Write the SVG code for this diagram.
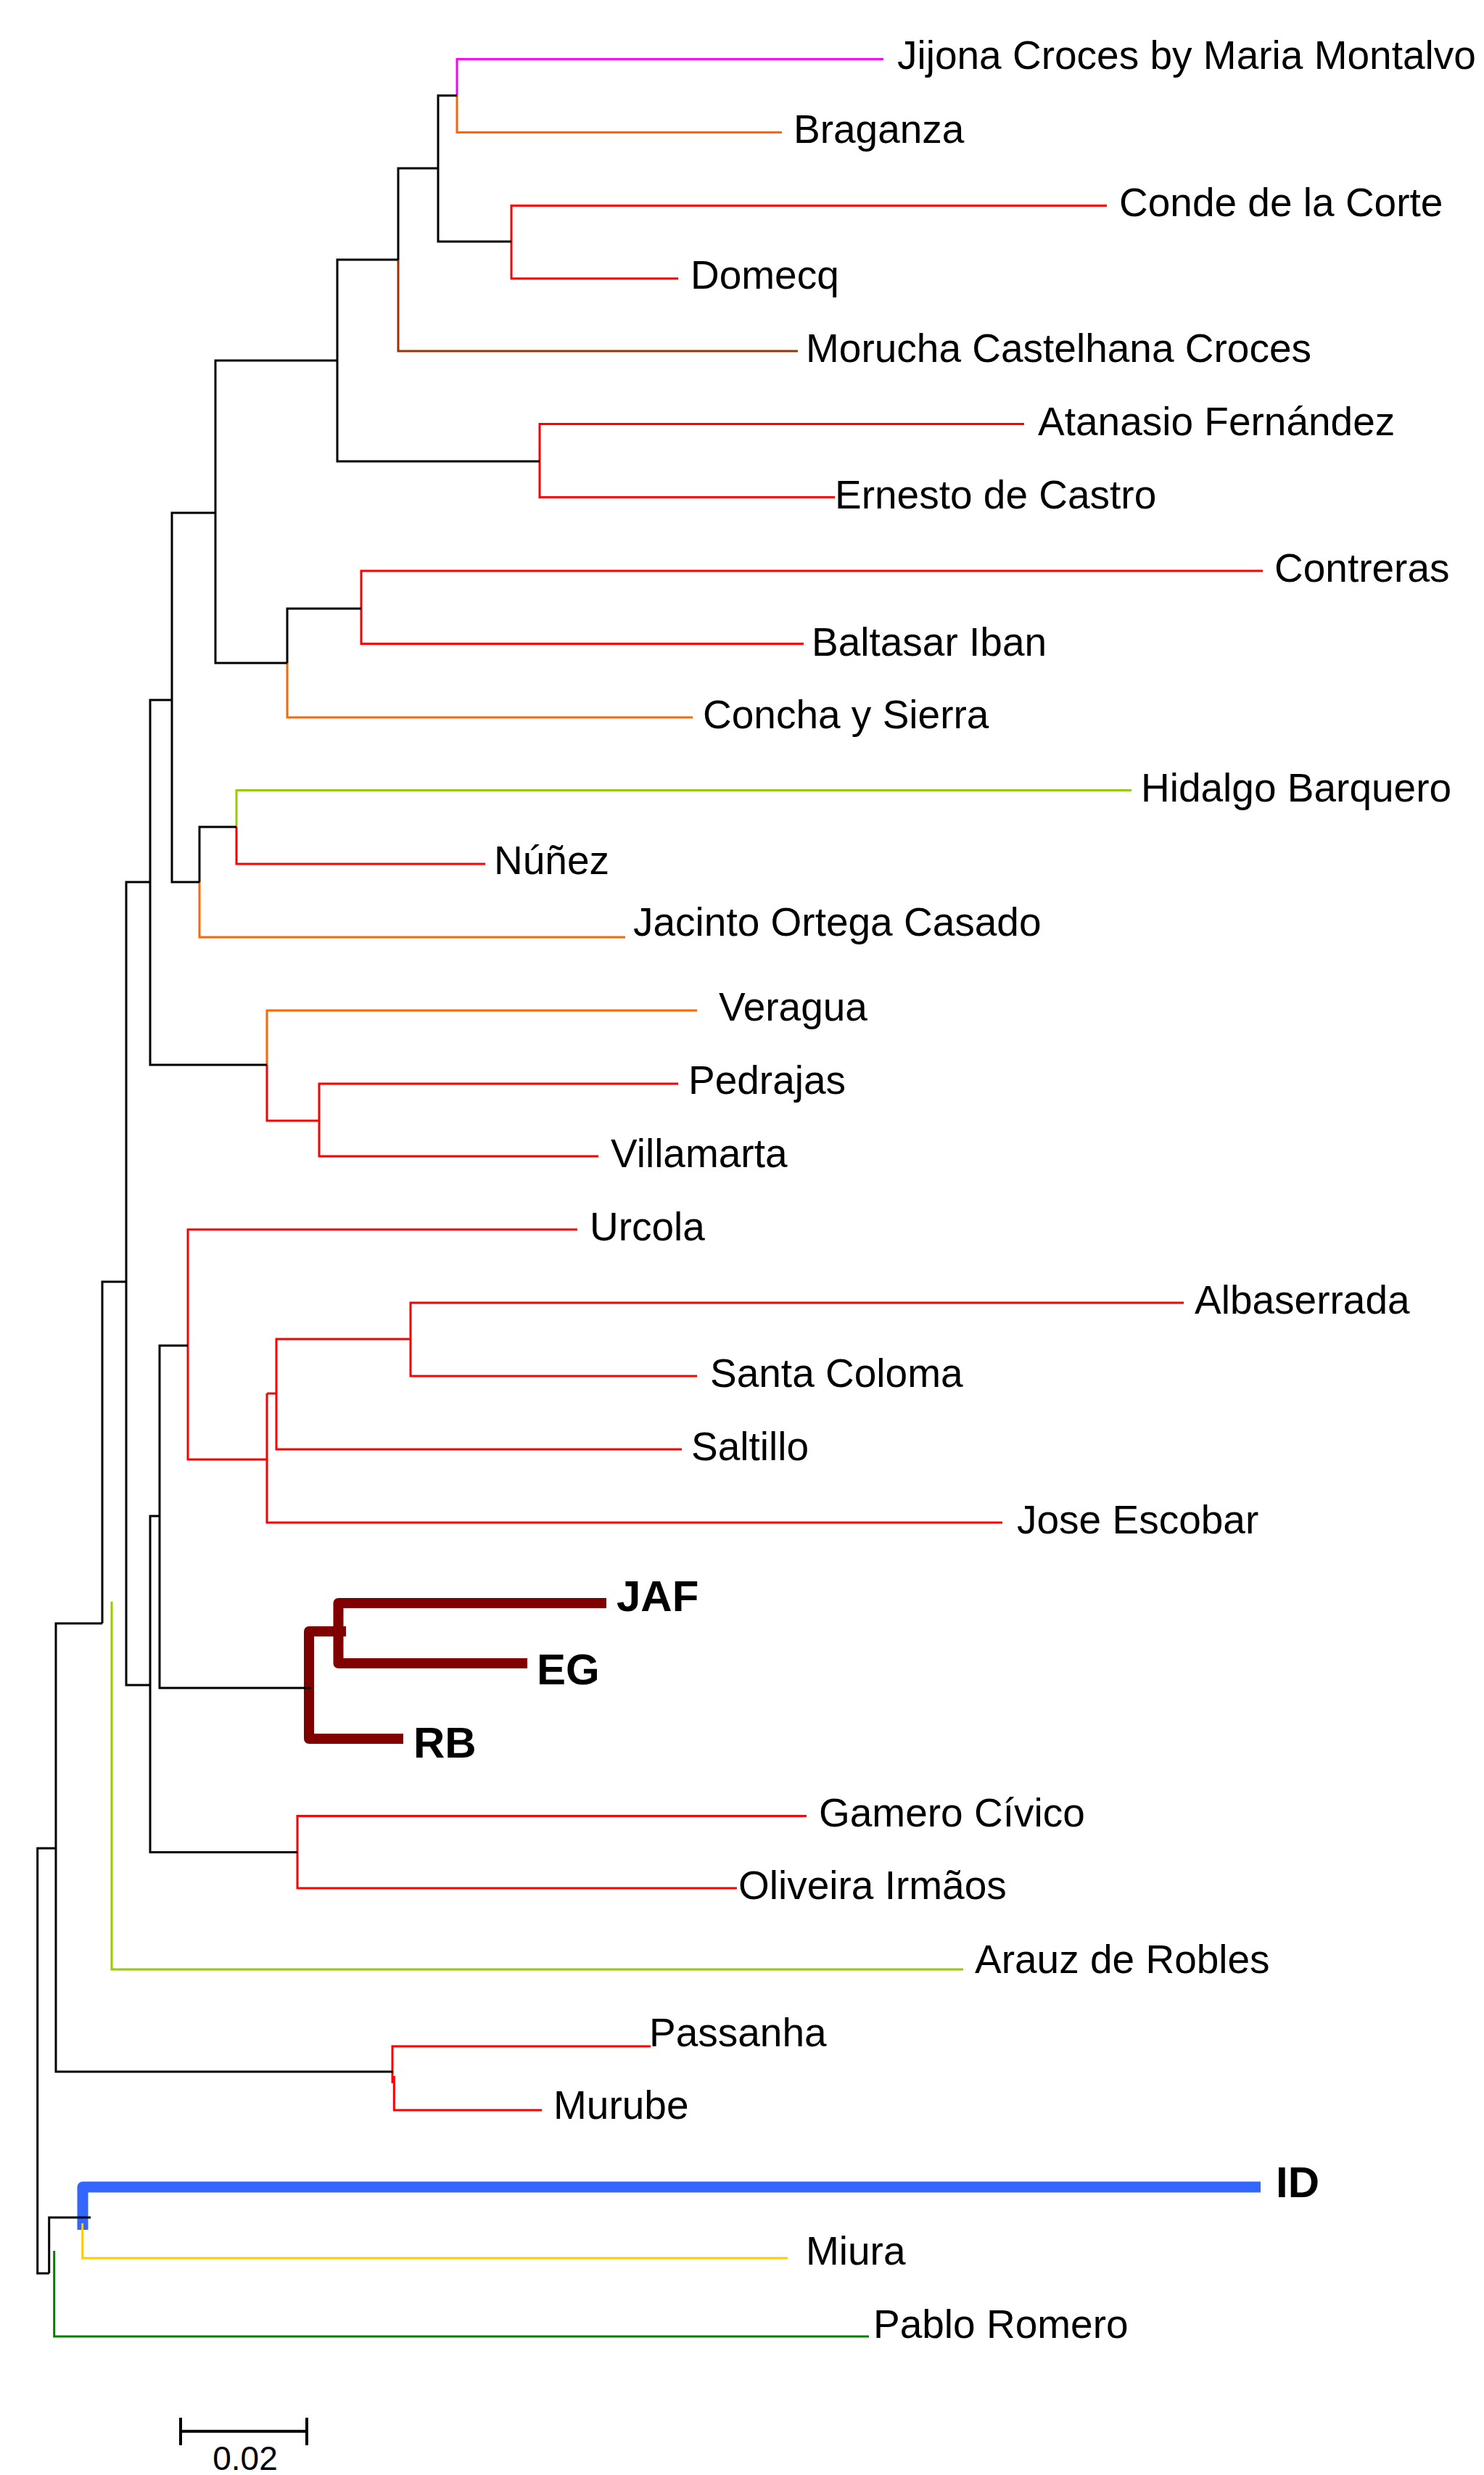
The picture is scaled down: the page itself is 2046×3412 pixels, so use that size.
<svg xmlns="http://www.w3.org/2000/svg" width="2046" height="3412" viewBox="0 0 2046 3412">
<style>
path{fill:none;stroke-width:3;stroke-linejoin:miter;stroke-linecap:butt}
.k{stroke:#000}
.r{stroke:#FF0000}
.o{stroke:#FF6600}
.m{stroke:#FF00FF}
.br{stroke:#993300}
.g{stroke:#99CC00}
.y{stroke:#FFCC00}
.gr{stroke:#008000}
.dr{stroke:#800000;stroke-width:14;stroke-linejoin:round}
.bl{stroke:#3366FF;stroke-width:15;stroke-linejoin:round}
.sc{stroke:#000;stroke-width:4}
text{font-family:"Liberation Sans",Arial,sans-serif;font-size:55px;fill:#000}
text.bd{font-weight:bold;font-size:60px}
</style>
<rect width="2046" height="3412" fill="#fff"/>
<g id="connectors">
  <path class="m" d="M1218,81.4 H630 V131.7"/>
  <path class="o" d="M630,131.7 V182.4 H1078"/>
  <path class="r" d="M1526,283.4 H705 V384 H935"/>
  <path class="br" d="M549,358 V484 H1100"/>
  <path class="r" d="M1412,584.4 H744 V685.4 H1151"/>
  <path class="r" d="M1741,787 H498 V887.4 H1108"/>
  <path class="o" d="M396,914 V989 H955"/>
  <path class="g" d="M1560,1089.5 H326 V1140"/>
  <path class="r" d="M326,1140 V1191 H669"/>
  <path class="o" d="M275,1216 V1292 H862"/>
  <path class="o" d="M961,1393 H368 V1468"/>
  <path class="r" d="M368,1468 V1545 H440"/>
  <path class="r" d="M935,1494 H440 V1594 H825"/>
  <path class="r" d="M796,1695 H259 V2012 H368"/>
  <path class="r" d="M368,1921 V2099 H1382"/>
  <path class="r" d="M368,1921 H381"/>
  <path class="r" d="M566,1846 H381 V1998 H940"/>
  <path class="r" d="M1632,1796 H566 V1897 H961"/>
  <path class="dr" d="M477,2249 H426 V2397 H556"/>
  <path class="dr" d="M836,2210 H466.5 V2293 H727"/>
  <path class="r" d="M1112,2503.6 H410 V2603 H1016"/>
  <path class="g" d="M154,2208 V2715 H1328"/>
  <path class="r" d="M897,2821 H541 V2872"/>
  <path class="r" d="M543.3,2862 V2909 H747"/>
  <path class="bl" d="M1738,3015 H114 V3074"/>
  <path class="y" d="M113.7,3065 V3113 H1086"/>
  <path class="gr" d="M74.7,3103 V3221 H1198"/>
  <path class="k" d="M77,2548 H51.7 V3134 H67.7"/>
  <path class="k" d="M141,2238 H77 V2856 H542"/>
  <path class="k" d="M174,1767 H141 V2238"/>
  <path class="k" d="M207,1216 H174 V2323 H207"/>
  <path class="k" d="M237,965 H207 V1468 H368"/>
  <path class="k" d="M297,707 H237 V1216 H275"/>
  <path class="k" d="M465,497 H297 V914 H396"/>
  <path class="k" d="M549,358 H465 V636 H744"/>
  <path class="k" d="M604,232 H549 V358"/>
  <path class="k" d="M630,131.7 H604 V333 H705"/>
  <path class="k" d="M498,839 H396 V914"/>
  <path class="k" d="M326,1140 H275 V1216"/>
  <path class="k" d="M220,2090 H207 V2553.6 H410"/>
  <path class="k" d="M259,1855 H220 V2327 H429"/>
  <path class="k" d="M125,3057 H67.7 V3134"/>
</g>
<g id="node-jijona"><text x="1237" y="95">Jijona Croces by Maria Montalvo</text></g>
<g id="node-braganza"><text x="1094" y="197">Braganza</text></g>
<g id="node-conde"><text x="1543" y="298">Conde de la Corte</text></g>
<g id="node-domecq"><text x="952" y="398">Domecq</text></g>
<g id="node-morucha"><text x="1111" y="499">Morucha Castelhana Croces</text></g>
<g id="node-atanasio"><text x="1431" y="600">Atanasio Fernández</text></g>
<g id="node-ernesto"><text x="1151" y="701">Ernesto de Castro</text></g>
<g id="node-contreras"><text x="1757" y="802">Contreras</text></g>
<g id="node-baltasar"><text x="1119" y="904">Baltasar Iban</text></g>
<g id="node-concha"><text x="969" y="1004">Concha y Sierra</text></g>
<g id="node-hidalgo"><text x="1573" y="1105">Hidalgo Barquero</text></g>
<g id="node-nunez"><text x="681" y="1205">Núñez</text></g>
<g id="node-jacinto"><text x="873" y="1290">Jacinto Ortega Casado</text></g>
<g id="node-veragua"><text x="991" y="1407">Veragua</text></g>
<g id="node-pedrajas"><text x="949" y="1508">Pedrajas</text></g>
<g id="node-villamarta"><text x="842" y="1609">Villamarta</text></g>
<g id="node-urcola"><text x="813" y="1710">Urcola</text></g>
<g id="node-albaserrada"><text x="1647" y="1811">Albaserrada</text></g>
<g id="node-santacoloma"><text x="979" y="1912">Santa Coloma</text></g>
<g id="node-saltillo"><text x="953" y="2013">Saltillo</text></g>
<g id="node-joseescobar"><text x="1402" y="2114">Jose Escobar</text></g>
<g id="node-jaf"><text class="bd" x="850" y="2221">JAF</text></g>
<g id="node-eg"><text class="bd" x="740" y="2322">EG</text></g>
<g id="node-rb"><text class="bd" x="570" y="2423">RB</text></g>
<g id="node-gamero"><text x="1129" y="2518">Gamero Cívico</text></g>
<g id="node-oliveira"><text x="1018" y="2618">Oliveira Irmãos</text></g>
<g id="node-arauz"><text x="1344" y="2720">Arauz de Robles</text></g>
<g id="node-passanha"><text x="895" y="2821">Passanha</text></g>
<g id="node-murube"><text x="763" y="2921">Murube</text></g>
<g id="node-id"><text class="bd" x="1759" y="3029">ID</text></g>
<g id="node-miura"><text x="1111" y="3122">Miura</text></g>
<g id="node-pablo"><text x="1204" y="3223">Pablo Romero</text></g>
<g id="scale-bar">
  <path class="sc" d="M249,3351.7 H423 M249,3333 V3371 M423,3333 V3371"/>
  <text x="338" y="3405" text-anchor="middle" style="font-size:46px">0.02</text>
</g>
</svg>
